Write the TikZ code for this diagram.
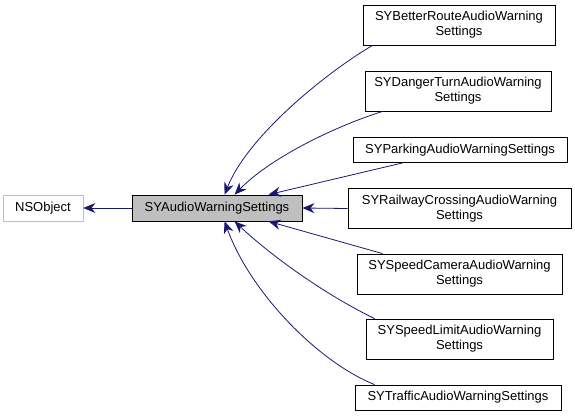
\documentclass[tikz,border=0pt]{standalone}
\usepackage{fontspec}
\setmainfont{Liberation Sans}
\usetikzlibrary{arrows.meta,calc}
\definecolor{edgeblue}{HTML}{191970}
\definecolor{boxgray}{HTML}{BFBFBF}
\tikzset{
  cls/.style={draw=black, line width=0.8pt, inner sep=0pt, align=center,
    font=\fontsize{13}{15}\selectfont, text=black},
  inh/.style={draw=edgeblue, line width=0.8pt, -{Stealth[length=12pt,width=10pt]}},
}
\begin{document}
\begin{tikzpicture}[x=1pt,y=-1pt]
\useasboundingbox (0,0) rectangle (575,417);
\node[cls, draw=boxgray, minimum width=80pt, minimum height=26pt] (ns) at (43,208) {NSObject};
\node[cls, fill=boxgray, minimum width=170pt, minimum height=26pt] (main) at (217,208) {SYAudioWarningSettings};
\node[cls, minimum width=192pt, minimum height=40pt] (br) at (459,25) {SYBetterRouteAudioWarning\\Settings};
\node[cls, minimum width=186pt, minimum height=40pt] (dt) at (458,91) {SYDangerTurnAudioWarning\\Settings};
\node[cls, minimum width=214pt, minimum height=25pt] (pk) at (460,150) {SYParkingAudioWarningSettings};
\node[cls, minimum width=223pt, minimum height=40pt] (rc) at (459.5,208.5) {SYRailwayCrossingAudioWarning\\Settings};
\node[cls, minimum width=205pt, minimum height=40pt] (sc) at (459.5,274) {SYSpeedCameraAudioWarning\\Settings};
\node[cls, minimum width=187pt, minimum height=40pt] (sl) at (459.5,339) {SYSpeedLimitAudioWarning\\Settings};
\node[cls, minimum width=206pt, minimum height=25pt] (tr) at (458,397.5) {SYTrafficAudioWarningSettings};

\draw[inh] (main.west) -- (ns.east);
\draw[inh] ($(br.south west)+(10,0)$) .. controls (330,70) and (248,135) .. ($(main.north west)+(93,0)$);
\draw[inh] ($(dt.south west)+(18,0)$) .. controls (330,128) and (268,160) .. ($(main.north west)+(103,0)$);
\draw[inh] ($(pk.south west)+(50,0)$) -- ($(main.north west)+(137,0)$);
\draw[inh] (rc.west) -- (main.east);
\draw[inh] ($(sc.north west)+(26,0)$) -- ($(main.south west)+(137,0)$);
\draw[inh] ($(sl.north west)+(9,0)$) .. controls (320,292) and (267,252) .. ($(main.south west)+(103,0)$);
\draw[inh] ($(tr.north west)+(20,0)$) .. controls (318,362) and (250,292) .. ($(main.south west)+(93,0)$);
\end{tikzpicture}
\end{document}
